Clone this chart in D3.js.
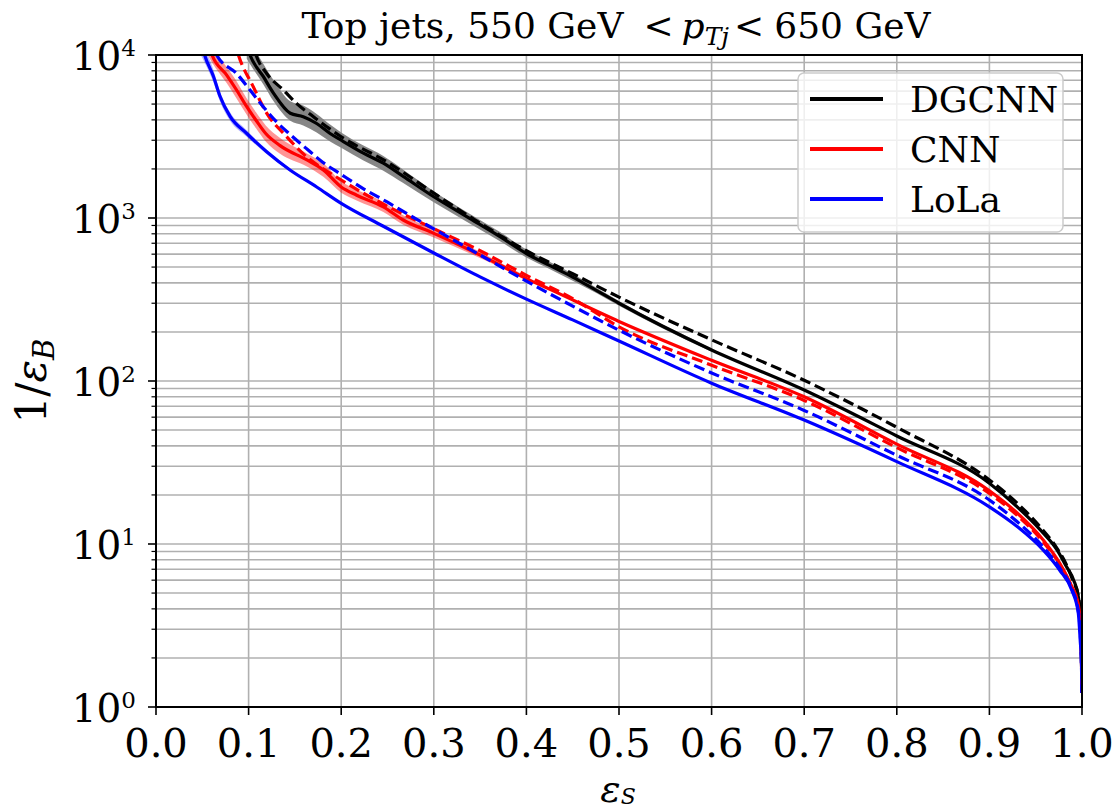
<!DOCTYPE html>
<html>
<head>
<meta charset="utf-8">
<script src="https://cdn.jsdelivr.net/npm/d3@7"></script>
<style>
  body { margin: 0; background: #fff; }
  svg { display: block; }
  text { font-family: "DejaVu Serif", serif; fill: #000; }
</style>
</head>
<body>
<svg id="chart" width="1116" height="810"></svg>
<script>
// ROC curves: signal efficiency vs background rejection, [eps_S, 1/eps_B]
const dgcnnSolid = [
  [0.095, 13000], [0.1015, 10000], [0.116, 7360], [0.127, 5820], [0.145, 4390],
  [0.159, 4180], [0.1735, 3800], [0.188, 3300], [0.2, 3000], [0.224, 2500],
  [0.2455, 2170], [0.267, 1800], [0.3, 1350], [0.3355, 1020], [0.3715, 768],
  [0.4, 605], [0.4255, 510], [0.45, 434], [0.475, 361], [0.5, 300], [0.6, 155],
  [0.7, 88], [0.8, 46], [0.9, 23.6], [0.93, 16.9], [0.955, 12.2], [0.973, 9.2],
  [0.983, 7.3], [0.991, 6.0], [0.996, 4.75], [0.998, 3.8], [0.999, 2.8], [1.0, 1.22]
];
const dgcnnDashed = [
  [0.103, 12500], [0.108, 10000], [0.1195, 7700], [0.1375, 6100], [0.152, 5030],
  [0.17, 4180], [0.2, 3150], [0.25, 2200], [0.3, 1420], [0.35, 930], [0.4, 630],
  [0.45, 455], [0.5, 327], [0.6, 179], [0.7, 101], [0.8, 52], [0.9, 24.7],
  [0.93, 17.8], [0.955, 12.7], [0.973, 9.4], [0.983, 7.5], [0.99, 6.0],
  [0.996, 4.8], [0.999, 2.9], [1.0, 1.22]
];
const cnnSolid = [
  [0.054, 13000], [0.0605, 10000], [0.0765, 7500], [0.087, 6100], [0.098, 4820],
  [0.108, 3980], [0.1185, 3300], [0.134, 2780], [0.163, 2270], [0.1807, 1970],
  [0.2, 1550], [0.2167, 1380], [0.2455, 1170], [0.267, 972], [0.3, 805],
  [0.3355, 650], [0.3715, 515], [0.4, 425], [0.4255, 365], [0.5, 232], [0.6, 134],
  [0.7, 80], [0.8, 41], [0.9, 21.2], [0.93, 15.5], [0.958, 10.6], [0.976, 7.6],
  [0.989, 5.47], [0.995, 4.5], [0.998, 3.4], [0.999, 2.6], [1.0, 1.22]
];
const cnnDashed = [
  [0.084, 12500], [0.089, 10000], [0.105, 6400], [0.1195, 4400], [0.14, 3200],
  [0.16, 2450], [0.2, 1710], [0.25, 1180], [0.3, 860], [0.35, 630], [0.4, 445],
  [0.45, 320], [0.5, 215], [0.6, 125], [0.7, 76], [0.8, 39], [0.9, 20.4],
  [0.93, 15], [0.958, 10.3], [0.976, 7.5], [0.989, 5.4], [0.995, 4.4],
  [0.999, 2.6], [1.0, 1.22]
];
const lolaSolid = [
  [0.046, 14000], [0.0525, 10000], [0.062, 7400], [0.069, 5600], [0.08, 4200],
  [0.098, 3300], [0.1195, 2550], [0.1447, 1970], [0.1735, 1550], [0.2, 1230],
  [0.2455, 890], [0.3, 610], [0.35, 435], [0.4, 318], [0.45, 237], [0.5, 176],
  [0.6, 97], [0.7, 57.6], [0.8, 32], [0.9, 16.9], [0.93, 12.8], [0.958, 9.2],
  [0.976, 6.9], [0.989, 5.2], [0.996, 3.77], [0.998, 2.6], [0.9995, 1.8], [1.0, 1.22]
];
const lolaDashed = [
  [0.06, 12500], [0.0655, 10000], [0.087, 7700], [0.1015, 6100], [0.116, 4800],
  [0.13, 3900], [0.145, 3250], [0.163, 2650], [0.18, 2200], [0.2, 1850],
  [0.225, 1500], [0.25, 1250], [0.275, 1030], [0.3, 857], [0.35, 593],
  [0.4, 410], [0.45, 288], [0.5, 205], [0.6, 112], [0.7, 66],
  [0.8, 35], [0.9, 18.6], [0.93, 13.7], [0.958, 9.6], [0.976, 7.1], [0.989, 5.3],
  [0.996, 3.9], [0.999, 2.2], [1.0, 1.22]
];

// Spread of the solid curves: [eps_S, lower, upper]
const dgcnnBand = [
  [0.098, 9500, 14000], [0.1015, 8800, 12500], [0.116, 6600, 8800], [0.127, 5200, 7000],
  [0.145, 3950, 5200], [0.159, 3700, 4900], [0.1735, 3350, 4350], [0.188, 2950, 3750],
  [0.2, 2700, 3350], [0.224, 2250, 2780], [0.2455, 1950, 2400], [0.267, 1640, 1980],
  [0.3, 1250, 1460], [0.3355, 950, 1090], [0.3715, 720, 820], [0.4, 572, 640],
  [0.4255, 485, 537], [0.45, 412, 455], [0.475, 348, 375], [0.5, 290, 310],
  [0.6, 151, 159]
];
const cnnBand = [
  [0.052, 11000, 14000], [0.0605, 9000, 11200], [0.0765, 6700, 8400], [0.087, 5400, 6900],
  [0.098, 4300, 5400], [0.108, 3550, 4450], [0.1185, 2950, 3700], [0.134, 2480, 3100],
  [0.163, 2070, 2490], [0.1807, 1790, 2170], [0.2, 1430, 1680], [0.2167, 1280, 1490],
  [0.2455, 1090, 1255], [0.267, 910, 1040], [0.3, 760, 850], [0.3355, 618, 684],
  [0.3715, 498, 533], [0.4, 412, 438]
];
const lolaBand = [
  [0.044, 11000, 15000], [0.0525, 9000, 11200], [0.062, 6800, 8100], [0.069, 5200, 6000],
  [0.08, 3950, 4450], [0.098, 3150, 3450], [0.1195, 2470, 2630], [0.1447, 1930, 2010]
];

const xTicks = [0, 0.1, 0.2, 0.3, 0.4, 0.5, 0.6, 0.7, 0.8, 0.9, 1.0];
const yTicks = [1, 10, 100, 1000, 10000];
const legendNames = ["DGCNN", "CNN", "LoLa"];
const legendColors = ["#000000", "#ff0000", "#0000ff"];

const svg = d3.select("#chart");
const frame = { left: 156, right: 1082, top: 55, bottom: 707 };

const x = d3.scaleLinear().domain([0, 1]).range([frame.left, frame.right]);
const y = d3.scaleLog().domain([1, 10000]).range([frame.bottom, frame.top]);

// minor log ticks 2..9 in each decade
const yMinor = [];
for (let d = 1; d < 10000; d *= 10) {
  for (let k = 2; k <= 9; k++) yMinor.push(d * k);
}

// grid
const grid = svg.append("g").attr("stroke", "#b0b0b0").attr("stroke-width", 1.6);
grid.selectAll("line.gx").data(xTicks.slice(1, -1)).join("line")
  .attr("class", "gx")
  .attr("x1", d => x(d)).attr("x2", d => x(d))
  .attr("y1", frame.top).attr("y2", frame.bottom);
grid.selectAll("line.gy").data(yTicks.slice(1, -1).concat(yMinor)).join("line")
  .attr("class", "gy")
  .attr("x1", frame.left).attr("x2", frame.right)
  .attr("y1", d => y(d)).attr("y2", d => y(d));

// plotting area clip
svg.append("clipPath").attr("id", "plotClip")
  .append("rect").attr("x", frame.left).attr("y", frame.top)
  .attr("width", frame.right - frame.left + 1).attr("height", frame.bottom - frame.top);

const plot = svg.append("g").attr("clip-path", "url(#plotClip)");

const line = d3.line()
  .x(d => x(d[0])).y(d => y(d[1]))
  .curve(d3.curveMonotoneX);
const band = d3.area()
  .x(d => x(d[0])).y0(d => y(d[1])).y1(d => y(d[2]))
  .curve(d3.curveMonotoneX);

const series = [
  { band: dgcnnBand, bandFill: "#808080", bandOpacity: 0.95, solid: dgcnnSolid, dashed: dgcnnDashed, color: legendColors[0] },
  { band: cnnBand, bandFill: "#ff0000", bandOpacity: 0.42, solid: cnnSolid, dashed: cnnDashed, color: legendColors[1] },
  { band: lolaBand, bandFill: "#0000ff", bandOpacity: 0.3, solid: lolaSolid, dashed: lolaDashed, color: legendColors[2] }
];

series.forEach(s => {
  plot.append("path").datum(s.band)
    .attr("d", band)
    .attr("fill", s.bandFill).attr("fill-opacity", s.bandOpacity);
  plot.append("path").datum(s.solid)
    .attr("d", line)
    .attr("fill", "none").attr("stroke", s.color)
    .attr("stroke-width", 3.2).attr("stroke-linejoin", "round");
  plot.append("path").datum(s.dashed)
    .attr("d", line)
    .attr("fill", "none").attr("stroke", s.color)
    .attr("stroke-width", 3.2).attr("stroke-dasharray", "11,5");
});

// spines
svg.append("rect")
  .attr("x", frame.left).attr("y", frame.top)
  .attr("width", frame.right - frame.left).attr("height", frame.bottom - frame.top)
  .attr("fill", "none").attr("stroke", "#000").attr("stroke-width", 2);

// x ticks
const xt = svg.append("g");
xt.selectAll("line").data(xTicks).join("line")
  .attr("x1", d => x(d)).attr("x2", d => x(d))
  .attr("y1", frame.bottom).attr("y2", frame.bottom + 8)
  .attr("stroke", "#000").attr("stroke-width", 1.6);
xt.selectAll("text").data(xTicks).join("text")
  .attr("x", d => x(d)).attr("y", frame.bottom + 50)
  .attr("text-anchor", "middle")
  .attr("font-size", 40)
  .text(d => d.toFixed(1));

// y ticks
const yt = svg.append("g");
yt.selectAll("line.maj").data(yTicks).join("line")
  .attr("class", "maj")
  .attr("x1", frame.left - 8).attr("x2", frame.left)
  .attr("y1", d => y(d)).attr("y2", d => y(d))
  .attr("stroke", "#000").attr("stroke-width", 1.6);
yt.selectAll("line.min").data(yMinor).join("line")
  .attr("class", "min")
  .attr("x1", frame.left - 4.5).attr("x2", frame.left)
  .attr("y1", d => y(d)).attr("y2", d => y(d))
  .attr("stroke", "#000").attr("stroke-width", 1.2);
yt.selectAll("text").data(yTicks).join("text")
  .attr("x", 136).attr("y", d => y(d) + 15)
  .attr("text-anchor", "end")
  .attr("font-size", 39)
  .each(function (d) {
    const t = d3.select(this);
    t.append("tspan").text("10");
    t.append("tspan").attr("font-size", 23).attr("dy", -14).text(Math.round(Math.log10(d)));
  });

// title
const title = svg.append("text")
  .attr("x", 616).attr("y", 38)
  .attr("text-anchor", "middle")
  .attr("font-size", 36);
title.append("tspan").text("Top jets, 550 GeV");
title.append("tspan").attr("dx", 20).text("<");
title.append("tspan").attr("dx", 8).attr("font-style", "italic").text("p");
title.append("tspan").attr("font-style", "italic").attr("font-size", 25).attr("dy", 7).text("Tj");
title.append("tspan").attr("dy", -7).attr("dx", 5).text("<");
title.append("tspan").attr("dx", 10).text("650 GeV");

// axis labels
const xl = svg.append("text")
  .attr("x", 618).attr("y", 802)
  .attr("text-anchor", "middle")
  .attr("font-size", 38);
xl.append("tspan").attr("font-style", "italic").text("ε");
xl.append("tspan").attr("font-style", "italic").attr("font-size", 22).attr("dy", 2).text("S");

const yl = svg.append("text")
  .attr("transform", "translate(46,381) rotate(-90)")
  .attr("text-anchor", "middle")
  .attr("font-size", 42);
yl.append("tspan").text("1/");
yl.append("tspan").attr("font-style", "italic").text("ε");
yl.append("tspan").attr("font-style", "italic").attr("font-size", 29).attr("dy", 8).text("B");

// legend
const lg = svg.append("g");
lg.append("rect")
  .attr("x", 798).attr("y", 73).attr("width", 265).attr("height", 159)
  .attr("rx", 6).attr("ry", 6)
  .attr("fill", "#fff").attr("fill-opacity", 0.8)
  .attr("stroke", "#cccccc").attr("stroke-width", 1.5);
const rowY = [99, 149, 199];
legendNames.forEach((name, i) => {
  lg.append("line")
    .attr("x1", 810).attr("x2", 883)
    .attr("y1", rowY[i]).attr("y2", rowY[i])
    .attr("stroke", legendColors[i]).attr("stroke-width", 4);
  lg.append("text")
    .attr("x", 910).attr("y", rowY[i] + 13)
    .attr("font-size", 36)
    .text(name);
});
</script>
</body>
</html>
